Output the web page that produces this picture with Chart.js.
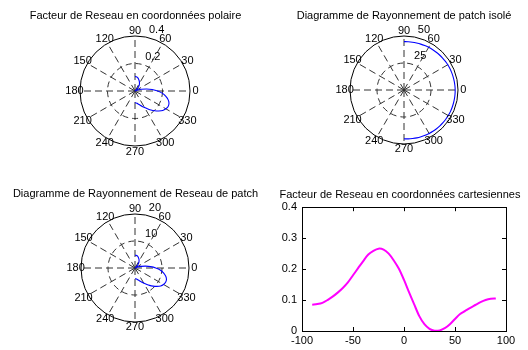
<!DOCTYPE html>
<html>
<head>
<meta charset="utf-8">
<script src="https://cdn.jsdelivr.net/npm/chart.js@4.4.1/dist/chart.umd.min.js"></script>
<style>
  body { margin: 0; background: #fff; }
  #fig { position: relative; width: 528px; height: 350px; }
  #fig canvas { position: absolute; }
</style>
</head>
<body>
<div id="fig">
  <canvas id="polarAF" width="264" height="175" style="left:0;top:0"></canvas>
  <canvas id="polarPatch" width="264" height="175" style="left:264px;top:0"></canvas>
  <canvas id="polarArray" width="264" height="175" style="left:0;top:175px"></canvas>
  <canvas id="cartAF" width="264" height="175" style="left:264px;top:175px"></canvas>
</div>
<script>
// Angles (degrees) where the patterns were read
const theta = [-90, -85, -80, -75, -70, -65, -60, -55, -50, -45, -40, -35, -30, -25, -20, -15, -10, -5,
  0, 5, 10, 15, 20, 25, 30, 35, 40, 45, 50, 55, 60, 65, 70, 75, 80, 85, 90];

// Array factor (top left polar + bottom right cartesian)
const afValues = [0.085, 0.087, 0.091, 0.100, 0.111, 0.124, 0.139, 0.157, 0.180, 0.203, 0.226, 0.247, 0.259,
  0.266, 0.263, 0.250, 0.228, 0.201, 0.165, 0.125, 0.086, 0.048, 0.022, 0.007, 0.001, 0.002, 0.009, 0.022,
  0.039, 0.055, 0.065, 0.075, 0.084, 0.093, 0.100, 0.104, 0.105];

// Single patch pattern (top right)
const patchValues = [45.2, 45.4, 45.6, 45.9, 46.1, 46.3, 46.5, 46.7, 46.9, 47.0, 47.1, 47.2, 47.3, 47.4, 47.4,
  47.4, 47.4, 47.4, 47.4, 47.3, 47.2, 47.1, 47.0, 46.9, 46.8, 46.6, 46.4, 46.2, 46.0, 45.8, 45.6, 45.4, 45.2,
  45.0, 44.9, 44.8, 44.8];

// Patch array pattern (bottom left)
const arrayValues = [4.0, 4.0, 4.2, 4.6, 5.1, 5.7, 6.4, 7.3, 8.4, 9.5, 10.6, 11.6, 12.2, 12.5, 12.4, 11.8, 10.8,
  9.5, 7.7, 5.8, 4.0, 2.3, 1.0, 0.3, 0.05, 0.1, 0.4, 1.0, 1.8, 2.5, 3.0, 3.5, 3.9, 4.3, 4.6, 4.7, 4.7];

// Polar grid
const spokeAngles = [0, 30, 60, 90, 120, 150, 180, 210, 240, 270, 300, 330];
const ringsAF = [0.2, 0.4];
const ringsPatch = [25, 50];
const ringsArray = [10, 20];

// Cartesian ticks
const xTicks = [-100, -50, 0, 50, 100];
const yTicks = [0, 0.1, 0.2, 0.3, 0.4];

const titles = [
  'Facteur de Reseau en coordonnées polaire',
  'Diagramme de Rayonnement de patch isolé',
  'Diagramme de Rayonnement de Reseau de patch',
  'Facteur de Reseau en coordonnées cartesiennes'
];

Chart.defaults.font.family = '"Liberation Sans", Arial, sans-serif';
Chart.defaults.font.size = 11;
Chart.defaults.color = '#000';
Chart.defaults.animation = false;

// radar slots every 5 degrees, clockwise from the top (90 deg)
const slotStep = 5;
const slotCount = 360 / slotStep;
const slotNames = [];
for (let i = 0; i < slotCount; i++) slotNames.push(String(90 - slotStep * i));

function toRadar(values) {
  const out = [];
  for (let i = 0; i < slotCount; i++) {
    const k = theta.indexOf(90 - slotStep * i);
    out.push(k >= 0 ? values[k] : null);
  }
  return out;
}

// matlab style labels: degrees at 1.1 * rmax, ring values along 82 deg
function makePolarLabels(rings) {
  return {
    id: 'polarLabels',
    afterDraw(chart) {
      const scale = chart.scales.r;
      const ctx = chart.ctx;
      ctx.save();
      ctx.font = '11px "Liberation Sans", Arial, sans-serif';
      ctx.fillStyle = '#000';
      ctx.textAlign = 'center';
      ctx.textBaseline = 'middle';
      spokeAngles.forEach(deg => {
        const p = scale.getPointPosition((90 - deg) / slotStep, scale.drawingArea * 1.1);
        ctx.fillText(String(deg), p.x, p.y);
      });
      ctx.textAlign = 'left';
      ctx.textBaseline = 'bottom';
      rings.forEach(v => {
        const d = scale.getDistanceFromCenterForValue(v + rings[0] / 20);
        const p = scale.getPointPosition((90 - 82) / slotStep, d);
        ctx.fillText('  ' + v, p.x, p.y);
      });
      ctx.restore();
    }
  };
}

function polarConfig(title, values, rings, titlePad, layoutPad) {
  const rmax = rings[rings.length - 1];
  return {
    type: 'radar',
    data: {
      labels: slotNames,
      datasets: [{
        data: toRadar(values),
        borderColor: '#0000ff',
        borderWidth: 1.1,
        pointRadius: 0,
        fill: false,
        tension: 0.25
      }]
    },
    options: {
      responsive: false,
      layout: { padding: layoutPad },
      plugins: {
        legend: { display: false },
        tooltip: { enabled: false },
        title: { display: true, text: title, font: { size: 11, weight: 'normal' }, padding: titlePad }
      },
      scales: {
        r: {
          min: 0,
          max: rmax,
          startAngle: 0,
          ticks: { display: false, stepSize: rings[0] },
          pointLabels: { display: false },
          grid: {
            circular: true,
            lineWidth: 1,
            color: c => (c.tick && c.tick.value >= rmax ? '#000' : '#333')
          },
          border: { dash: c => (c.tick && c.tick.value >= rmax ? [] : [6, 4]) },
          angleLines: {
            color: '#333',
            lineWidth: c => (c.index % 6 === 0 ? 1 : 0),
            borderDash: [7, 4]
          }
        }
      }
    },
    plugins: [makePolarLabels(rings)]
  };
}

new Chart(document.getElementById('polarAF'),
  polarConfig(titles[0], afValues, ringsAF, { top: 9, bottom: 14 }, { left: 7, right: 0, top: 0, bottom: 28 }));
new Chart(document.getElementById('polarPatch'),
  polarConfig(titles[1], patchValues, ringsPatch, { top: 9, bottom: 14.3 }, { left: 16, right: 0, top: 0, bottom: 30.5 }));
new Chart(document.getElementById('polarArray'),
  polarConfig(titles[2], arrayValues, ringsArray, { top: 12.7, bottom: 13.6 }, { left: 7, right: 0, top: 0, bottom: 27.5 }));

// cartesian plot, box with inward ticks on all four sides
function boxAxis(position, min, max, ticks, showLabels, size, pad) {
  return {
    type: 'linear',
    position: position,
    min: min,
    max: max,
    afterBuildTicks: s => { s.ticks = ticks.map(v => ({ value: v })); },
    afterFit: s => {
      if (position === 'top' || position === 'bottom') s.height = size;
      else s.width = size;
    },
    grid: { drawOnChartArea: false, tickLength: -4, color: '#000', lineWidth: 1 },
    border: { color: '#000', width: 1 },
    ticks: { display: showLabels, padding: pad, autoSkip: false, maxRotation: 0 }
  };
}

new Chart(document.getElementById('cartAF'), {
  type: 'scatter',
  data: {
    datasets: [{
      data: theta.map((t, i) => ({ x: t, y: afValues[i] })),
      showLine: true,
      borderColor: '#ff00ff',
      borderWidth: 2,
      pointRadius: 0,
      tension: 0.3
    }]
  },
  options: {
    responsive: false,
    layout: { padding: { left: 8, right: 0, top: 0, bottom: 0 } },
    plugins: {
      legend: { display: false },
      tooltip: { enabled: false },
      title: { display: true, text: titles[3], font: { size: 11, weight: 'normal' }, padding: { top: 13, bottom: 2 } }
    },
    scales: {
      x: boxAxis('bottom', -100, 100, xTicks, true, 19, 7),
      x2: boxAxis('top', -100, 100, xTicks, false, 4, 0),
      y: boxAxis('left', 0, 0.4, yTicks, true, 30, 9),
      y2: boxAxis('right', 0, 0.4, yTicks, false, 22, 0)
    }
  }
});
</script>
</body>
</html>
